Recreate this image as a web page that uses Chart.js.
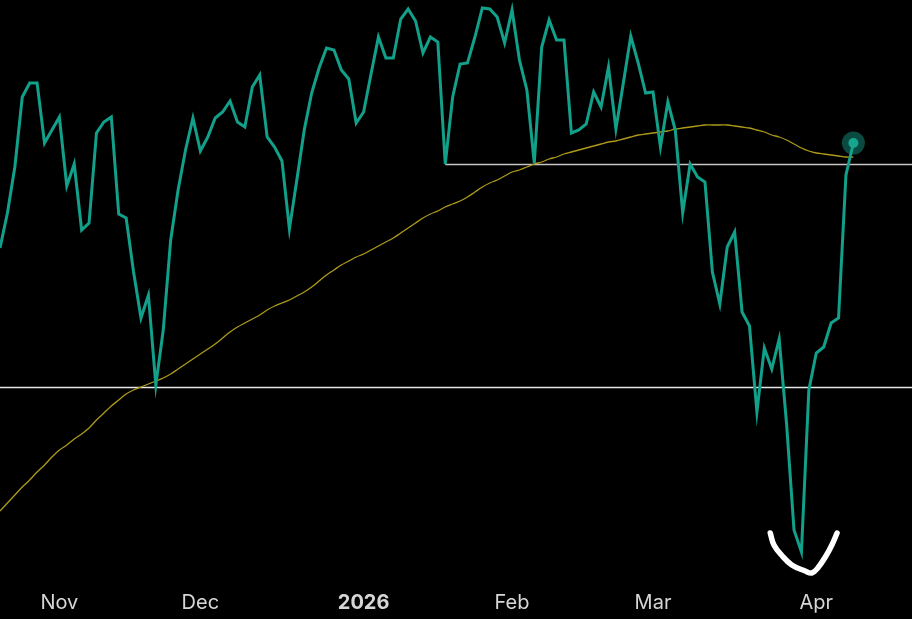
<!DOCTYPE html>
<html>
<head>
<meta charset="utf-8">
<title>Price vs moving average</title>
<script src="https://cdn.jsdelivr.net/npm/chart.js@4"></script>
<style>
    html, body { margin: 0; padding: 0; background: #000; }
    #wrap { width: 912px; height: 619px; }
</style>
</head>
<body>
<div id="wrap"><canvas id="priceChart"></canvas></div>
<script>
// --- Data (one value per trading day) ---

const closes = [
    6627, 6662, 6708, 6778, 6792, 6792, 6732, 6745, 6758, 6689,
    6711, 6645, 6652, 6742, 6753, 6758, 6661, 6657, 6603, 6557,
    6580, 6490, 6545, 6635, 6685, 6725, 6757, 6724, 6738, 6757,
    6763, 6774, 6753, 6748, 6788, 6800, 6738, 6728, 6714, 6646,
    6695, 6745, 6782, 6807, 6827, 6825, 6805, 6796, 6752, 6763,
    6801, 6838, 6817, 6817, 6856, 6866, 6854, 6822, 6838, 6833,
    6711, 6778, 6811, 6812, 6838, 6867, 6866, 6858, 6832, 6865,
    6815, 6785, 6712, 6828, 6855, 6835, 6835, 6742, 6745, 6751,
    6783, 6768, 6808, 6746, 6792, 6839, 6812, 6782, 6783, 6728,
    6773, 6745, 6662, 6711, 6698, 6693, 6603, 6571, 6628, 6643,
    6563, 6549, 6463, 6527, 6506, 6536, 6451, 6345, 6323, 6485,
    6522, 6528, 6552, 6557, 6700, 6732
];

// slow moving average
const movingAvg = [
    6364, 6372, 6380, 6388, 6395, 6403, 6410, 6418, 6425, 6430,
    6436, 6441, 6447, 6455, 6462, 6469, 6475, 6481, 6485, 6488,
    6491, 6494, 6497, 6501, 6506, 6511, 6516, 6521, 6526, 6531,
    6537, 6543, 6548, 6552, 6556, 6560, 6565, 6569, 6572, 6575,
    6579, 6583, 6588, 6594, 6600, 6605, 6610, 6614, 6618, 6621,
    6625, 6629, 6633, 6637, 6642, 6647, 6652, 6657, 6661, 6664,
    6668, 6671, 6674, 6678, 6683, 6688, 6692, 6695, 6699, 6703,
    6705, 6708, 6711, 6713, 6716, 6718, 6721, 6723, 6725, 6727,
    6729, 6731, 6733, 6734, 6736, 6738, 6740, 6741, 6742, 6743,
    6744, 6746, 6747, 6748, 6749, 6750, 6750, 6750, 6750, 6749,
    6748, 6747, 6745, 6743, 6740, 6738, 6735, 6731, 6727, 6724,
    6722, 6721, 6720, 6719, 6718, 6718
];

// first trading day of each month
const tickIdx = [8, 27, 49, 69, 88, 110];
const tickLabels = ['Nov', 'Dec', '2026', 'Feb', 'Mar', 'Apr'];

// hand drawn levels
const supportLevel = 6487.5;
const resistLevel = 6710.5;
const resistStart = 60;

// hand drawn smile under the low
const smileX = [103.8, 104.3, 105.3, 106.7, 108.5, 109.4, 110.2, 111.3, 112.1, 112.8];
const smileY = [6342, 6330, 6320, 6310, 6304, 6302, 6307, 6319, 6330, 6342];

const X_MAX = 122.9;

// --- Chart ---

const toPoints = (arr) => arr.map((v, i) => ({ x: i, y: v }));
const last = closes.length - 1;

new Chart(document.getElementById('priceChart'), {
    type: 'line',
    data: {
        datasets: [
            {
                label: 'smile',
                data: smileX.map((x, i) => ({ x: x, y: smileY[i] })),
                borderColor: '#ffffff',
                borderWidth: 5.5,
                borderCapStyle: 'round',
                tension: 0.4,
                pointRadius: 0,
                order: 0
            },
            {
                label: 'last',
                data: [{ x: last, y: closes[last] }],
                showLine: false,
                pointRadius: 5,
                pointBackgroundColor: '#16a58e',
                pointBorderWidth: 0,
                order: 0
            },
            {
                label: 'halo',
                data: [{ x: last, y: closes[last] }],
                showLine: false,
                pointRadius: 11.5,
                pointBackgroundColor: 'rgba(22,165,142,0.45)',
                pointBorderWidth: 0,
                order: 1
            },
            {
                label: 'Price',
                data: toPoints(closes),
                borderColor: '#13a08a',
                borderWidth: 3,
                borderJoinStyle: 'miter',
                pointRadius: 0,
                tension: 0,
                order: 2
            },
            {
                label: 'Moving average',
                data: toPoints(movingAvg),
                borderColor: '#ad9a1a',
                borderWidth: 1.3,
                pointRadius: 0,
                tension: 0.3,
                order: 3
            },
            {
                label: 'support',
                data: [{ x: 0, y: supportLevel }, { x: X_MAX, y: supportLevel }],
                borderColor: '#e6e6e6',
                borderWidth: 1.5,
                pointRadius: 0,
                order: 4
            },
            {
                label: 'resistance',
                data: [{ x: resistStart, y: resistLevel }, { x: X_MAX, y: resistLevel }],
                borderColor: '#c4c4c4',
                borderWidth: 1.5,
                pointRadius: 0,
                order: 4
            }
        ]
    },
    options: {
        responsive: true,
        maintainAspectRatio: false,
        animation: false,
        clip: false,
        layout: { autoPadding: false, padding: 0 },
        plugins: {
            legend: { display: false },
            tooltip: { enabled: false }
        },
        scales: {
            x: {
                type: 'linear',
                min: 0,
                max: X_MAX,
                grid: { display: false },
                border: { display: false },
                afterBuildTicks: (axis) => {
                    axis.ticks = tickIdx.map(v => ({ value: v }));
                },
                ticks: {
                    autoSkip: false,
                    maxRotation: 0,
                    padding: 4,
                    color: '#d6d6d6',
                    font: (ctx) => ({
                        family: 'Inter',
                        size: 20,
                        weight: ctx.index === 2 ? 'bold' : 'normal'
                    }),
                    callback: (value) => tickLabels[tickIdx.indexOf(value)]
                }
            },
            y: {
                display: false,
                min: 6296,
                max: 6875
            }
        }
    }
});
</script>
</body>
</html>
